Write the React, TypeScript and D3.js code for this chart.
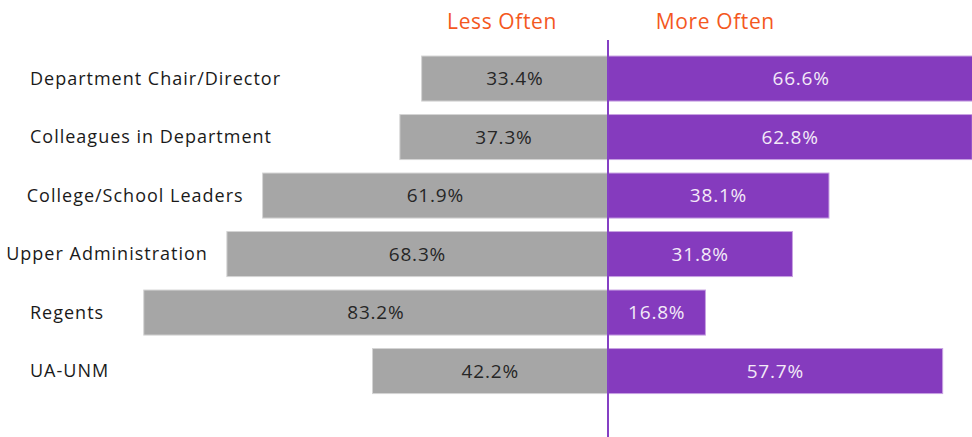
import React, { useEffect, useRef } from "react";
import * as d3 from "d3";

const categories = [
  "Department Chair/Director",
  "Colleagues in Department",
  "College/School Leaders",
  "Upper Administration",
  "Regents",
  "UA-UNM",
];
const lessOften = [33.4, 37.3, 61.9, 68.3, 83.2, 42.2];
const moreOften = [66.6, 62.8, 38.1, 31.8, 16.8, 57.7];
const headers = ["Less Often", "More Often"];

const W = 972;
const H = 437;
const FONT = "'Open Sans', sans-serif";

export default function App() {
  const ref = useRef<SVGSVGElement>(null);

  useEffect(() => {
    const svg = d3.select(ref.current);
    svg.selectAll("*").remove();

    const center = 608;
    const xL = d3.scaleLinear().domain([0, 100]).range([center, center - 558]);
    const xR = d3.scaleLinear().domain([0, 100]).range([center, center + 580]);
    const y = d3
      .scaleBand<string>()
      .domain(categories)
      .range([49.3, 400.3])
      .paddingInner(0.23)
      .paddingOuter(0.115);

    const rows = categories.map((c, i) => ({ c, l: lessOften[i], r: moreOften[i] }));

    svg
      .append("g")
      .selectAll("rect")
      .data(rows)
      .join("rect")
      .attr("x", (d) => xL(d.l))
      .attr("y", (d) => y(d.c)!)
      .attr("width", (d) => xL(0) - xL(d.l))
      .attr("height", y.bandwidth())
      .attr("fill", "#A6A6A6")
      .attr("stroke", "#D4D4D4")
      .attr("stroke-width", 1);

    svg
      .append("g")
      .selectAll("rect")
      .data(rows)
      .join("rect")
      .attr("x", xR(0))
      .attr("y", (d) => y(d.c)!)
      .attr("width", (d) => xR(d.r) - xR(0))
      .attr("height", y.bandwidth())
      .attr("fill", "#853BBE")
      .attr("stroke", "#C8A2E2")
      .attr("stroke-width", 1);

    svg
      .append("g")
      .selectAll("text")
      .data(rows)
      .join("text")
      .attr("x", (d) => (xL(d.l) + xL(0)) / 2)
      .attr("y", (d) => y(d.c)! + y.bandwidth() / 2)
      .attr("dy", "0.35em")
      .attr("text-anchor", "middle")
      .attr("font-family", FONT)
      .attr("font-size", 19)
      .attr("letter-spacing", 0.8)
      .attr("fill", "#262626")
      .text((d) => d.l.toFixed(1) + "%");

    svg
      .append("g")
      .selectAll("text")
      .data(rows)
      .join("text")
      .attr("x", (d) => (xR(d.r) + xR(0)) / 2)
      .attr("y", (d) => y(d.c)! + y.bandwidth() / 2)
      .attr("dy", "0.35em")
      .attr("text-anchor", "middle")
      .attr("font-family", FONT)
      .attr("font-size", 19)
      .attr("letter-spacing", 0.8)
      .attr("fill", "#F3EAF8")
      .text((d) => d.r.toFixed(1) + "%");

    const labels = svg
      .append("g")
      .selectAll("text")
      .data(rows)
      .join("text")
      .attr("y", (d) => y(d.c)! + y.bandwidth() / 2)
      .attr("dy", "0.35em")
      .attr("font-family", FONT)
      .attr("font-size", 18)
      .attr("letter-spacing", 1)
      .attr("fill", "#1a1a1a")
      .text((d) => d.c);
    labels.attr("x", function (d) {
      const w = (this as SVGTextElement).getComputedTextLength();
      return Math.min(30, xL(d.l) - 19 - w);
    });

    svg
      .append("line")
      .attr("x1", center)
      .attr("x2", center)
      .attr("y1", 40)
      .attr("y2", H)
      .attr("stroke", "#8540C4")
      .attr("stroke-width", 2);

    svg
      .append("g")
      .selectAll("text")
      .data(headers)
      .join("text")
      .attr("x", (_d, i) => (i === 0 ? xL(19) : xR(18.5)))
      .attr("y", 22)
      .attr("dy", "0.35em")
      .attr("text-anchor", "middle")
      .attr("font-family", FONT)
      .attr("font-size", 21)
      .attr("letter-spacing", 0.6)
      .attr("fill", "#F4581E")
      .text((d) => d);
  }, []);

  return (
    <svg
      ref={ref}
      width={W}
      height={H}
      style={{ position: "absolute", left: 0, top: 0, background: "#fff" }}
    />
  );
}
